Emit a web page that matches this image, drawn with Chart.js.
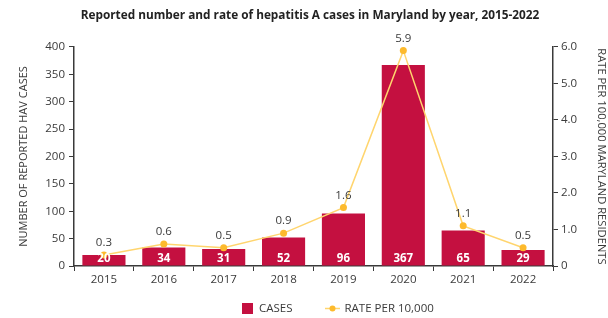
<!DOCTYPE html>
<html>
<head>
<meta charset="utf-8">
<script src="https://cdn.jsdelivr.net/npm/chart.js@4/dist/chart.umd.min.js"></script>
<style>
  html, body { margin: 0; padding: 0; background: #fff; }
  #wrap { width: 608px; height: 318px; }
</style>
</head>
<body>
<div id="wrap"><canvas id="c" width="608" height="318"></canvas></div>
<script>
const years = ['2015', '2016', '2017', '2018', '2019', '2020', '2021', '2022'];
const cases = [20, 34, 31, 52, 96, 367, 65, 29];
const rates = [0.3, 0.6, 0.5, 0.9, 1.6, 5.9, 1.1, 0.5];
const casesTicks = [0, 50, 100, 150, 200, 250, 300, 350, 400];
const rateTicks = [0, 1, 2, 3, 4, 5, 6];
const legendLabels = ['CASES', 'RATE PER 10,000'];

const FONT = "'Open Sans', sans-serif";
const TXT = '#3a3a3a';
const AX = '#3a3a3a';
const BAR = '#C41040';
const LINE = '#FFD56E';
const DOT = '#FDBA2C';

const labelPlugin = {
  id: 'valueLabels',
  afterDatasetsDraw(chart) {
    const ctx = chart.ctx;
    ctx.save();
    ctx.textAlign = 'center';
    ctx.textBaseline = 'middle';
    const bars = chart.getDatasetMeta(0).data;
    ctx.font = "700 11.5px " + FONT;
    ctx.fillStyle = '#ffffff';
    bars.forEach((b, i) => {
      ctx.fillText(String(cases[i]), b.x, b.base - 6.5);
    });
    const pts = chart.getDatasetMeta(1).data;
    ctx.font = "400 11.5px " + FONT;
    ctx.fillStyle = TXT;
    pts.forEach((p, i) => {
      ctx.fillText(rates[i].toFixed(1), p.x, p.y - 12);
    });
    ctx.restore();
  }
};

// custom legend (real canvas text), centred under the chart
const legendPlugin = {
  id: 'customLegend',
  afterDraw(chart) {
    const ctx = chart.ctx;
    ctx.save();
    const y = 308.5;
    ctx.font = "400 11.5px " + FONT;
    ctx.textBaseline = 'middle';
    ctx.textAlign = 'left';
    ctx.fillStyle = BAR;
    ctx.fillRect(242, y - 5.5, 11, 11);
    ctx.fillStyle = TXT;
    ctx.fillText(legendLabels[0], 259, y);
    ctx.strokeStyle = LINE;
    ctx.lineWidth = 1.5;
    ctx.beginPath(); ctx.moveTo(325, y); ctx.lineTo(340, y); ctx.stroke();
    ctx.fillStyle = DOT;
    ctx.beginPath(); ctx.arc(332.5, y, 3, 0, Math.PI * 2); ctx.fill();
    ctx.fillStyle = TXT;
    ctx.fillText(legendLabels[1], 344.5, y);
    ctx.restore();
  }
};

new Chart(document.getElementById('c'), {
  type: 'bar',
  data: {
    labels: years,
    datasets: [
      {
        type: 'bar',
        label: legendLabels[0],
        data: cases,
        backgroundColor: BAR,
        borderWidth: 0,
        yAxisID: 'y',
        categoryPercentage: 1,
        barPercentage: 0.72,
        order: 2
      },
      {
        type: 'line',
        label: legendLabels[1],
        data: rates,
        borderColor: LINE,
        borderWidth: 1.5,
        backgroundColor: DOT,
        pointBackgroundColor: DOT,
        pointBorderWidth: 0,
        pointRadius: 3.5,
        tension: 0,
        yAxisID: 'y1',
        order: 1,
        clip: false
      }
    ]
  },
  options: {
    responsive: false,
    animation: false,
    devicePixelRatio: 1,
    layout: { padding: { left: 12, right: 0, top: 0, bottom: 20 } },
    plugins: {
      title: {
        display: true,
        text: 'Reported number and rate of hepatitis A cases in Maryland by year, 2015-2022',
        color: '#222',
        font: { family: FONT, size: 11.8, weight: '700' },
        padding: { top: 9, bottom: 23.8 }
      },
      legend: { display: false },
      tooltip: { enabled: false }
    },
    scales: {
      x: {
        offset: true,
        grid: { display: true, drawOnChartArea: false, offset: true, tickLength: 5, color: AX, lineWidth: 1 },
        border: { display: true, color: AX, width: 1.5 },
        ticks: { color: TXT, font: { family: FONT, size: 11.5 }, padding: 2, maxRotation: 0 },
        afterFit(s) { s.height = 32; }
      },
      y: {
        position: 'left',
        min: 0, max: 400,
        afterBuildTicks(s) { s.ticks = casesTicks.map(v => ({ value: v })); },
        grid: { display: true, drawOnChartArea: false, tickLength: 5, color: AX },
        border: { display: true, color: AX, width: 1.5 },
        ticks: { color: TXT, font: { family: FONT, size: 11.5 }, padding: 4 },
        title: {
          display: true,
          text: 'NUMBER OF REPORTED HAV CASES',
          color: TXT,
          font: { family: FONT, size: 11 },
          padding: { top: 5, bottom: 0 }
        },
        afterFit(s) { s.width = 62; }
      },
      y1: {
        position: 'right',
        min: 0, max: 6,
        afterBuildTicks(s) { s.ticks = rateTicks.map(v => ({ value: v })); },
        grid: { display: true, drawOnChartArea: false, tickLength: 5, color: AX },
        border: { display: true, color: AX, width: 1.5 },
        ticks: {
          color: TXT, font: { family: FONT, size: 11.5 }, padding: 3,
          callback: v => (v === 0 ? '0' : Number(v).toFixed(1))
        },
        title: {
          display: true,
          text: 'RATE PER 100,000 MARYLAND RESIDENTS',
          color: TXT,
          font: { family: FONT, size: 11.2 },
          padding: { top: 0, bottom: 4 }
        },
        afterFit(s) { s.width = 55; }
      }
    }
  },
  plugins: [labelPlugin, legendPlugin]
});
</script>
</body>
</html>
